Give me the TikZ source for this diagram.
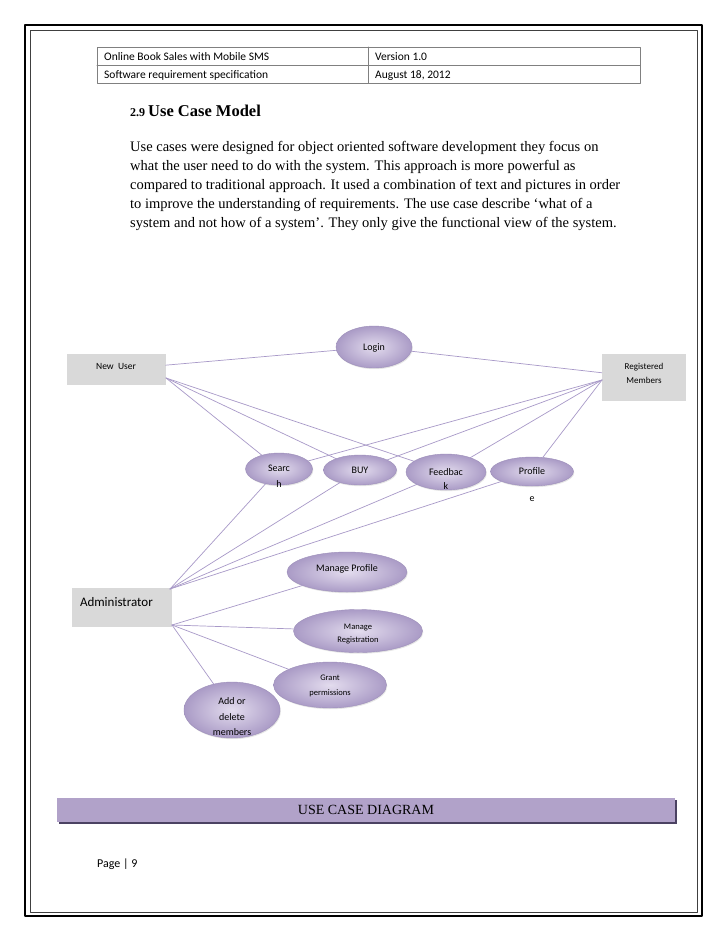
\documentclass[tikz,border=0pt]{standalone}
\usepackage{fontspec}
\setmainfont{Liberation Serif}
\newfontfamily\uifont{Carlito}
\usetikzlibrary{shapes.geometric,shadows}
\definecolor{linkc}{HTML}{A899C8}
\definecolor{casein}{HTML}{E3DCEE}
\definecolor{caseout}{HTML}{AA9BC6}
\definecolor{caserim}{HTML}{9D8FBA}
\definecolor{boxc}{HTML}{D9D9D9}
\definecolor{barc}{HTML}{B1A2C9}
\definecolor{barsh}{HTML}{4B4262}
\newcommand{\rows}[1]{\begin{tabular}[t]{@{}c@{}}#1\end{tabular}}
\begin{document}
\begin{tikzpicture}[x=1pt, y=-1pt, line join=round, line cap=round,
  link/.style={draw=linkc, line width=0.7pt},
  usecase/.style={ellipse, draw=caserim, line width=0.4pt, inner color=casein, outer color=caseout,
    inner sep=0pt, drop shadow={opacity=0.2, shadow xshift=0.8pt, shadow yshift=-1.2pt},
    font=\uifont\fontsize{10}{16}\selectfont},
  actor/.style={fill=boxc, inner sep=0pt, font=\uifont\fontsize{9.5}{14}\selectfont},
  para/.style={anchor=base west, inner sep=0pt, font=\fontsize{14.5}{19}\selectfont},
  head/.style={anchor=base west, inner sep=0pt, font=\uifont\fontsize{11.5}{13}\selectfont}]
\fill[white] (0,0) rectangle (728,943);
\useasboundingbox (0,0) rectangle (728,943);
\draw[line width=2pt] (25,25) rectangle (702,916);
\draw[line width=0.9pt, black!75] (30,30) rectangle (697,912);
\draw[gray, line width=1pt] (97,47) rectangle (640,83) (97,65) -- (640,65) (368,47) -- (368,83);
\node[head] (hd1) at (104,60) {Online Book Sales with Mobile SMS};
\node[head] (hd2) at (375,60) {Version 1.0};
\node[head] (hd3) at (104,78) {Software requirement specification};
\node[head] (hd4) at (375,78) {August 18, 2012};
\node[para, font=\bfseries] (ttl) at (130,116) {\fontsize{12}{14}\selectfont 2.9 \fontsize{16.5}{18}\selectfont Use Case Model};
\node[para] (p1) at (130,151) {Use cases were designed for object oriented software development they focus on};
\node[para] (p2) at (130,170) {what the user need to do with the system. This approach is more powerful as};
\node[para] (p3) at (130,189) {compared to traditional approach. It used a combination of text and pictures in order};
\node[para] (p4) at (130,208) {to improve the understanding of requirements. The use case describe ‘what of a};
\node[para] (p5) at (130,227) {system and not how of a system’. They only give the functional view of the system.};
\node[actor, minimum width=99, minimum height=31, text height=0pt, text depth=0pt] (nu) at (116,369.5) {New\ \ User};
\node[actor, minimum width=84, minimum height=47, text height=0pt, text depth=16pt, font=\uifont\fontsize{9}{14}\selectfont] (rm) at (644,377.5) {\rows{Registered\\Members}};
\node[actor, minimum width=100, minimum height=39, text width=84, text height=0pt, text depth=3pt, font=\uifont\fontsize{13}{15}\selectfont] (adm) at (122,607.5) {Administrator};
\node[usecase, minimum width=76, minimum height=42, text height=7pt, text depth=0pt] (login) at (374,347) {Login};
\node[usecase, minimum width=67, minimum height=32, text height=5pt, text depth=0pt] (srch) at (279,469) {\rows{Searc\\h}};
\node[usecase, minimum width=73, minimum height=30, text height=7pt, text depth=0pt] (buy) at (360,470) {BUY};
\node[usecase, minimum width=80, minimum height=36, text height=7pt, text depth=0pt, font=\uifont\fontsize{10}{14}\selectfont] (fdbk) at (446,472) {\rows{Feedbac\\k}};
\node[usecase, minimum width=83, minimum height=29, text height=6pt, text depth=0pt,
  label={[name=profE, inner sep=0pt, label distance=10pt, font=\uifont\fontsize{10}{12}\selectfont]below:e}] (prof) at (532,471.5) {Profile};
\node[usecase, minimum width=120, minimum height=40, text height=0pt, text depth=2pt] (mprof) at (347,572) {Manage Profile};
\node[usecase, minimum width=129, minimum height=43, text height=0pt, text depth=3pt, font=\uifont\fontsize{8.5}{13}\selectfont] (mreg) at (358,631) {\rows{Manage\\Registration}};
\node[usecase, minimum width=113, minimum height=46, text height=0pt, text depth=9pt, font=\uifont\fontsize{8.5}{15}\selectfont] (grant) at (330,685) {\rows{Grant\\permissions}};
\node[usecase, minimum width=96, minimum height=56, text height=0pt, text depth=11pt, font=\uifont\fontsize{10}{15.5}\selectfont] (adddel) at (232,710) {\rows{Add or\\delete\\members}};
\coordinate (nuF) at (166,378);
\coordinate (rmF) at (602,380);
\coordinate (admT) at (170,589);
\coordinate (admR) at (172,625);
\draw[link] (nu) -- (login) -- (rm);
\foreach \uc in {srch,buy,fdbk}
  \draw[link] (nuF) -- (\uc);
\foreach \uc in {srch,buy,fdbk,prof}
  \draw[link] (rmF) -- (\uc);
\foreach \uc in {srch,buy,fdbk,prof}
  \draw[link] (admT) -- (\uc);
\foreach \uc in {mprof,mreg,grant,adddel}
  \draw[link] (admR) -- (\uc);
\node[fill=barc, minimum width=618, minimum height=24, inner sep=0pt, font=\fontsize{14}{16}\selectfont,
  drop shadow={fill=barsh, opacity=1, shadow xshift=1.5pt, shadow yshift=-1.5pt}] (cap) at (366,810) {USE CASE DIAGRAM};
\node[anchor=base west, inner sep=0pt, font=\uifont\fontsize{12}{14}\selectfont] (pg) at (97,867) {Page | 9};
\end{tikzpicture}
\end{document}
